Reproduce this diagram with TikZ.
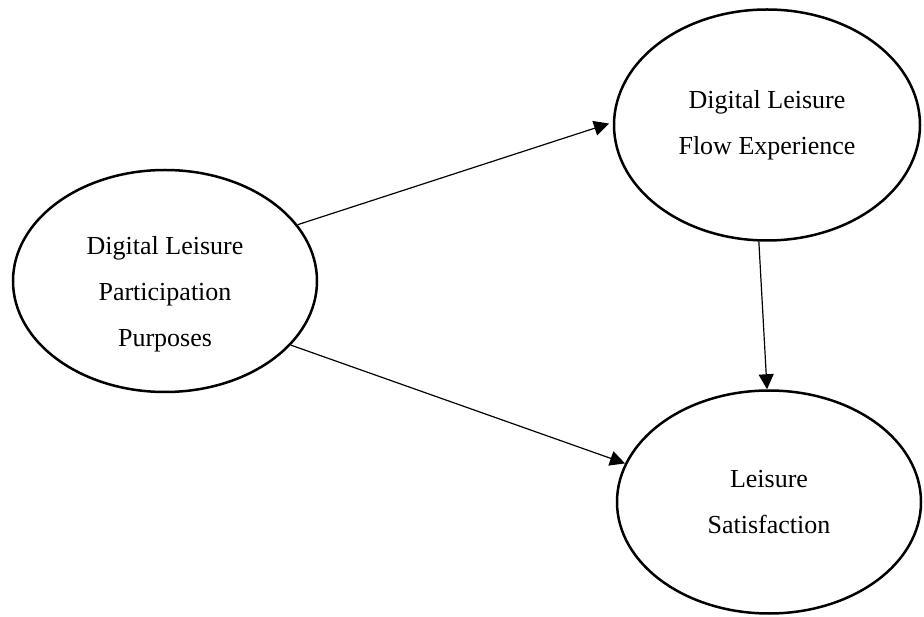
\documentclass[tikz,border=0pt]{standalone}
\usepackage{fontspec}
\setmainfont{Liberation Serif}
\usetikzlibrary{shapes.geometric,arrows.meta}

\begin{document}
\begin{tikzpicture}[x=1pt, y=-1pt,
    varStyle/.style={ellipse, draw, line width=2.5pt, inner sep=0pt, align=center, font=\fontsize{26}{46}\selectfont},
    pathStyle/.style={-{Triangle[length=15pt, width=15pt]}, line width=1.2pt}]
    \useasboundingbox (0,0) rectangle (924,617);

    \node[varStyle, minimum width=304pt, minimum height=222pt] (purposes)     at (165,281) {\rule{0pt}{44pt}Digital Leisure\\Participation\\Purposes};
    \node[varStyle, minimum width=306pt, minimum height=231pt] (flow)         at (767,125) {Digital Leisure\\Flow Experience};
    \node[varStyle, minimum width=304pt, minimum height=223pt] (satisfaction) at (769,502) {Leisure\\Satisfaction};

    \draw[pathStyle, shorten >=4pt] (purposes.23.6) -- (flow.179);
    \draw[pathStyle] (purposes.-27.1) -- (satisfaction.165);
    \draw[pathStyle] (flow.-94.3)     -- (satisfaction.91.5);
\end{tikzpicture}
\end{document}
